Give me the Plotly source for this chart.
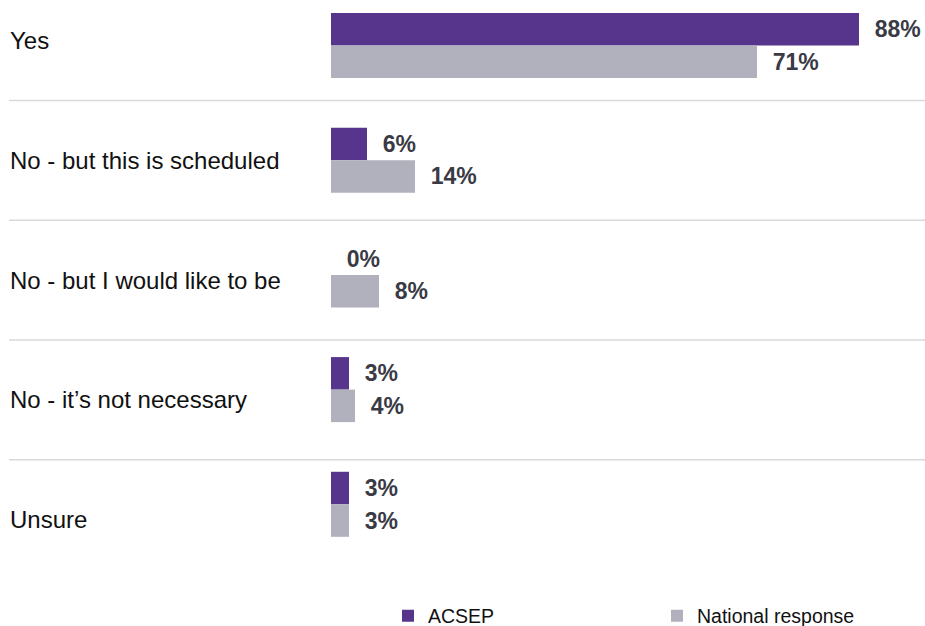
import plotly.graph_objects as go

categories = ["Yes", "No - but this is scheduled", "No - but I would like to be",
              "No - it\u2019s not necessary", "Unsure"]
acsep = [88, 6, 0, 3, 3]
national = [71, 14, 8, 4, 3]
series_names = ["ACSEP", "National response"]

PURPLE = "#58358C"
GREY = "#B1B1BD"
FONT = "Liberation Sans, Arial, sans-serif"
W, H = 925, 626

idx = list(range(len(categories)))

fig = go.Figure()
for name, vals, col in [(series_names[0], acsep, PURPLE), (series_names[1], national, GREY)]:
    fig.add_trace(go.Bar(
        name=name, y=idx, x=vals, orientation="h",
        marker=dict(color=col, line=dict(width=0)),
        text=[f"\u00a0\u00a0{v}%" for v in vals],
        textposition="outside", cliponaxis=False,
        textfont=dict(family=FONT, size=23, color="#3A3A45", weight="bold"),
        hoverinfo="skip",
    ))

# category labels and separators on a second (label) axis
for i, c in enumerate(categories):
    fig.add_annotation(text=c, xref="paper", x=8 / W, xanchor="left",
                       yref="y2", y=i, yanchor="middle", showarrow=False,
                       font=dict(family=FONT, size=24, color="#111111"))
for i in range(len(categories) - 1):
    fig.add_shape(type="line", xref="paper", x0=9 / W, x1=1,
                  yref="y2", y0=i + 0.5, y1=i + 0.5,
                  line=dict(color="#D9D9D9", width=1.5))

fig.update_layout(
    width=W, height=H, autosize=False,
    margin=dict(l=0, r=0, t=0, b=0, autoexpand=False),
    paper_bgcolor="white", plot_bgcolor="white",
    barmode="group", bargap=0.433, bargroupgap=0,
    showlegend=True,
    legend=dict(orientation="h", xref="container", yref="container",
                x=388 / W, xanchor="left", y=(626 - 616) / H, yanchor="middle",
                entrywidth=224, font=dict(family=FONT, size=19.5, color="#111111"),
                traceorder="normal", bgcolor="rgba(0,0,0,0)"),
    xaxis=dict(domain=[331 / W, 1], range=[0, (W - 331) / 6], visible=False, fixedrange=True),
    yaxis=dict(range=[(H - 45.5) / 114.7, -45.5 / 114.7], visible=False, fixedrange=True),
    yaxis2=dict(range=[(H - 40.5) / 119.75, -40.5 / 119.75], overlaying="y",
                visible=False, fixedrange=True),
)

fig.write_html("out.html", config={"displayModeBar": False},
               post_script="document.body.style.margin='0';document.body.style.overflow='hidden';")
